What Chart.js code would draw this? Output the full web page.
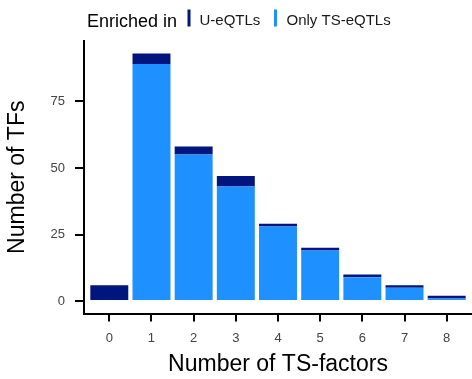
<!DOCTYPE html>
<html>
<head>
<meta charset="utf-8">
<script src="https://cdn.jsdelivr.net/npm/chart.js@4/dist/chart.umd.min.js"></script>
<style>
  html, body { margin: 0; padding: 0; background: #ffffff; }
  #wrap { width: 472px; height: 379px; }
</style>
</head>
<body>
<div id="wrap"><canvas id="chart" width="472" height="379"></canvas></div>
<script>
// Number of TS-factors per TF, split by where the TF is enriched
const categories = [0, 1, 2, 3, 4, 5, 6, 7, 8];
const onlyTsEqtls = [0, 89, 55, 43, 28, 19, 9, 5, 1];
const uEqtls = [6, 4, 3, 4, 1, 1, 1, 1, 1];
const yTicks = [0, 25, 50, 75];

const FONT = "'Liberation Sans', Arial, Helvetica, sans-serif";
const DARK = '#00167E';
const LIGHT = '#1E90FF';

function points(values) {
  return categories.map((c, i) => ({ x: c, y: values[i] }));
}

// Inline legend: "Enriched in" followed by slim colour keys
const inlineLegend = {
  id: 'inlineLegend',
  afterDraw(chart) {
    const ctx = chart.ctx;
    const sets = chart.data.datasets.slice().reverse();
    ctx.save();
    ctx.textBaseline = 'alphabetic';
    ctx.textAlign = 'left';
    ctx.fillStyle = '#000000';
    ctx.font = '18px ' + FONT;
    ctx.fillText('Enriched in', 87, 26.5);
    const keyX = [187.5, 274];
    const textX = [199.5, 286.5];
    sets.forEach((ds, i) => {
      ctx.fillStyle = ds.backgroundColor;
      ctx.fillRect(keyX[i], 9.5, 3, 17);
      ctx.fillStyle = '#1a1a1a';
      ctx.font = '15px ' + FONT;
      ctx.fillText(ds.label, textX[i], 24.5);
    });
    ctx.restore();
  }
};

new Chart(document.getElementById('chart'), {
  type: 'bar',
  data: {
    datasets: [
      { label: 'Only TS-eQTLs', data: points(onlyTsEqtls), backgroundColor: LIGHT, borderWidth: 0 },
      { label: 'U-eQTLs', data: points(uEqtls), backgroundColor: DARK, borderWidth: 0 }
    ]
  },
  options: {
    responsive: false,
    devicePixelRatio: 1,
    animation: false,
    layout: { padding: { top: 41, right: 0, bottom: 0, left: 0 } },
    datasets: { bar: { barPercentage: 0.9, categoryPercentage: 1.0 } },
    plugins: { legend: { display: false }, tooltip: { enabled: false } },
    scales: {
      x: {
        type: 'linear',
        stacked: true,
        offset: false,
        min: -0.6,
        max: 8.6,
        afterBuildTicks(scale) { scale.ticks = categories.map(v => ({ value: v })); },
        afterFit(scale) { scale.height = 65.5; },
        grid: { display: true, offset: false, drawOnChartArea: false, drawTicks: true, tickLength: 8, color: '#000000', lineWidth: 2 },
        border: { display: true, color: '#000000', width: 2 },
        ticks: { color: '#444444', font: { family: FONT, size: 13 }, padding: 9, maxRotation: 0, autoSkip: false },
        title: { display: true, text: 'Number of TS-factors', color: '#000000', font: { family: FONT, size: 23, lineHeight: 1.2 }, padding: { top: 0, bottom: 1 } }
      },
      y: {
        stacked: true,
        min: -4.65,
        max: 97.65,
        afterBuildTicks(scale) { scale.ticks = yTicks.map(v => ({ value: v })); },
        afterFit(scale) { scale.width = 84; },
        grid: { display: true, drawOnChartArea: false, drawTicks: true, tickLength: 9, color: '#000000', lineWidth: 2 },
        border: { display: true, color: '#000000', width: 2 },
        ticks: { color: '#444444', font: { family: FONT, size: 13 }, padding: 10 },
        title: { display: true, text: 'Number of TFs', color: '#000000', font: { family: FONT, size: 23, lineHeight: 1.2 }, padding: { top: 4, bottom: 0 } }
      }
    }
  },
  plugins: [inlineLegend]
});
</script>
</body>
</html>
